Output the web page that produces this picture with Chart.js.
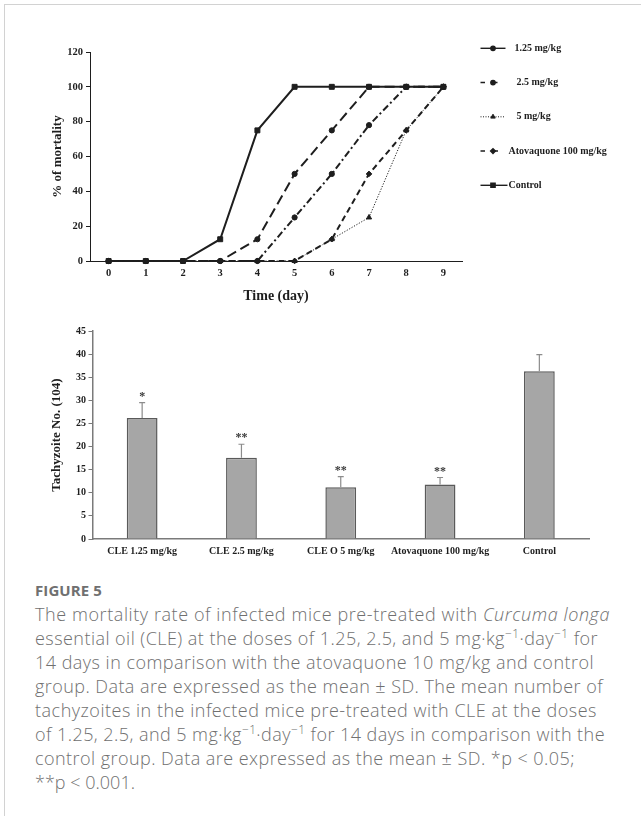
<!DOCTYPE html>
<html>
<head>
<meta charset="utf-8">
<script src="https://cdn.jsdelivr.net/npm/chart.js@4/dist/chart.umd.min.js"></script>
<style>
  html, body { margin: 0; padding: 0; background: #fff; }
  body { width: 641px; height: 816px; position: relative; overflow: hidden; }
  .frame { position: absolute; left: 4px; top: 4px; width: 800px; height: 900px;
           border-left: 1px solid #d2d2d2; border-top: 1px solid #d2d2d2; }
  #mortality { position: absolute; left: 0; top: 0; }
  #tachy { position: absolute; left: 0; top: 300px; }
  .caption { position: absolute; left: 35px; top: 578px; font-family: "Open Sans", sans-serif; color: #707070; }
  .fig { font-weight: 700; font-size: 15px; line-height: 24px; letter-spacing: 0.1px; }
  .ln { font-size: 18px; line-height: 24px; white-space: nowrap; font-weight: 300; width: max-content; }
  .ln sup { font-size: 0.66em; line-height: 0; vertical-align: 0.55em; }
</style>
</head>
<body>
<div class="frame"></div>
<canvas id="mortality" width="641" height="320"></canvas>
<canvas id="tachy" width="641" height="270"></canvas>
<div class="caption">
  <div class="fig">FIGURE 5</div>
  <div class="ln" data-right="610">The mortality rate of infected mice pre-treated with <i>Curcuma longa</i></div>
  <div class="ln" data-right="598">essential oil (CLE) at the doses of 1.25, 2.5, and 5 mg·kg<sup>−1</sup>·day<sup>−1</sup> for</div>
  <div class="ln" data-right="594">14 days in comparison with the atovaquone 10 mg/kg and control</div>
  <div class="ln" data-right="603">group. Data are expressed as the mean ± SD. The mean number of</div>
  <div class="ln" data-right="597">tachyzoites in the infected mice pre-treated with CLE at the doses</div>
  <div class="ln" data-right="605">of 1.25, 2.5, and 5 mg·kg<sup>−1</sup>·day<sup>−1</sup> for 14 days in comparison with the</div>
  <div class="ln" data-right="575">control group. Data are expressed as the mean ± SD. *p &lt; 0.05;</div>
  <div class="ln" data-right="135">**p &lt; 0.001.</div>
</div>
<script>
// ---- Mortality over time (% of mice dead per day) ----
const days = ['0', '1', '2', '3', '4', '5', '6', '7', '8', '9'];
const mortality125 = [0, 0, 0, 0, 12.5, 50, 75, 100, 100, 100];
const mortality25  = [0, 0, 0, 0, 0, 25, 50, 78, 100, 100];
const mortality5   = [0, 0, 0, 0, 0, 0, 12.5, 25, 75, 100];
const mortalityAto = [0, 0, 0, 0, 0, 0, 12.5, 50, 75, 100];
const mortalityCtl = [0, 0, 0, 12.5, 75, 100, 100, 100, 100, 100];
const mortalityTicks = [0, 20, 40, 60, 80, 100, 120];

// ---- Tachyzoite counts per group ----
const groups = ['CLE 1.25 mg/kg', 'CLE 2.5 mg/kg', 'CLE O 5 mg/kg', 'Atovaquone 100 mg/kg', 'Control'];
const tachyMean = [26.2, 17.6, 11.2, 11.8, 36.3];
const tachySD   = [3.3, 2.9, 2.3, 1.5, 3.6];
const tachyStars = ['*', '**', '**', '**', ''];

const SERIF = '"Liberation Serif", "Times New Roman", serif';
const INK = '#1e1e1e';
const AXIS = '#7a7a7a';

// Caption lines: spread the letters so each line spans its set measure
const captionLeft = 35;
document.querySelectorAll('.ln').forEach(el => {
  const natural = el.getBoundingClientRect().width;
  const chars = el.textContent.trim().length;
  const target = Number(el.dataset.right) - captionLeft;
  el.style.letterSpacing = ((target - natural) / chars).toFixed(3) + 'px';
});

// Legend drawn to the right of the plot, one row per series with its own sample glyph
const sideLegend = {
  id: 'sideLegend',
  afterDraw(chart, args, opts) {
    const ctx = chart.ctx;
    const x0 = chart.chartArea.right + opts.gap;
    ctx.save();
    opts.items.forEach((it, i) => {
      const y = opts.top + i * opts.step;
      const ds = chart.data.datasets[i];
      ctx.strokeStyle = INK;
      ctx.fillStyle = INK;
      ctx.lineWidth = it.lineWidth;
      ctx.setLineDash(it.dash);
      ctx.beginPath();
      ctx.moveTo(x0, y);
      ctx.lineTo(x0 + it.len, y);
      ctx.stroke();
      ctx.setLineDash([]);
      Chart.helpers.drawPoint(ctx, { pointStyle: ds.pointStyle, radius: it.radius, rotation: 0, borderWidth: 1 },
        x0 + it.mark, y);
      ctx.font = 'bold 10px ' + SERIF;
      ctx.textBaseline = 'middle';
      ctx.textAlign = 'left';
      ctx.fillText(ds.label, x0 + it.textAt, y);
    });
    ctx.restore();
  }
};

const lineDs = (label, data, dash, width, style, radius) => ({
  label, data, borderColor: INK, backgroundColor: INK, borderWidth: width,
  borderDash: dash, pointStyle: style, pointRadius: radius, pointBorderWidth: 1,
  pointBackgroundColor: INK, pointBorderColor: INK, tension: 0, clip: false, fill: false
});

new Chart(document.getElementById('mortality'), {
  type: 'line',
  data: {
    labels: days,
    datasets: [
      lineDs('1.25 mg/kg', mortality125, [10, 5], 2, 'circle', 2.6),
      lineDs('2.5 mg/kg', mortality25, [7, 3, 2, 3], 2, 'circle', 2.6),
      lineDs('5 mg/kg', mortality5, [1.2, 1.6], 1, 'triangle', 3),
      lineDs('Atovaquone 100 mg/kg', mortalityAto, [6, 4], 2, 'rectRot', 2.8),
      lineDs('Control', mortalityCtl, [], 2, 'rect', 3.5)
    ]
  },
  options: {
    responsive: false,
    animation: false,
    layout: { padding: { left: 0, right: 179, top: 52, bottom: 0 } },
    plugins: {
      legend: { display: false },
      tooltip: { enabled: false },
      sideLegend: {
        gap: 18.5, top: 48.3, step: 34.25,
        items: [
          { dash: [], lineWidth: 1.4, len: 25, mark: 12.5, radius: 2.2, textAt: 34 },
          { dash: [4.5, 8], lineWidth: 1.4, len: 25, mark: 12.5, radius: 2.2, textAt: 36 },
          { dash: [1, 1.5], lineWidth: 1, len: 25, mark: 12.5, radius: 2.6, textAt: 36 },
          { dash: [4.5, 8.5], lineWidth: 1.4, len: 26, mark: 12.5, radius: 2.4, textAt: 28 },
          { dash: [], lineWidth: 1.4, len: 27, mark: 12.5, radius: 3, textAt: 28 }
        ]
      }
    },
    scales: {
      x: {
        type: 'category',
        offset: true,
        grid: { display: true, drawOnChartArea: false, drawTicks: false },
        border: { display: true, color: INK, width: 1 },
        ticks: { color: INK, font: { family: SERIF, weight: 'bold', size: 10.5 }, padding: 6, maxRotation: 0 },
        title: { display: true, text: 'Time (day)', color: INK,
                 font: { family: SERIF, weight: 'bold', size: 14 }, padding: { top: 0, bottom: 15.5 } },
        afterFit: s => { s.height = 59; }
      },
      y: {
        min: 0, max: 120,
        afterBuildTicks: s => { s.ticks = mortalityTicks.map(v => ({ value: v })); },
        grid: { display: true, drawOnChartArea: false, drawTicks: true, tickLength: 4, color: INK },
        border: { display: true, color: INK, width: 1 },
        ticks: { color: INK, font: { family: SERIF, weight: 'bold', size: 10.5 }, padding: 3 },
        title: { display: true, text: '% of mortality', color: INK,
                 font: { family: SERIF, weight: 'bold', size: 13 }, padding: { top: 50, bottom: 0 } },
        afterFit: s => { s.width = 90; }
      }
    }
  },
  plugins: [sideLegend]
});

// Upper error whiskers and significance marks above each bar
const whiskers = {
  id: 'whiskers',
  afterDatasetsDraw(chart) {
    const ctx = chart.ctx;
    const meta = chart.getDatasetMeta(0);
    const ys = chart.scales.y;
    ctx.save();
    meta.data.forEach((bar, i) => {
      const top = ys.getPixelForValue(tachyMean[i]);
      const hi = ys.getPixelForValue(tachyMean[i] + tachySD[i]);
      ctx.strokeStyle = '#8c8c8c';
      ctx.lineWidth = 1.2;
      ctx.beginPath();
      ctx.moveTo(bar.x, top);
      ctx.lineTo(bar.x, hi);
      ctx.moveTo(bar.x - 3, hi);
      ctx.lineTo(bar.x + 3, hi);
      ctx.stroke();
      if (tachyStars[i]) {
        ctx.fillStyle = '#3a3a3a';
        ctx.font = 'bold 12px ' + SERIF;
        ctx.textAlign = 'center';
        ctx.textBaseline = 'alphabetic';
        ctx.fillText(tachyStars[i], bar.x, hi - 3);
      }
    });
    ctx.restore();
  }
};

new Chart(document.getElementById('tachy'), {
  type: 'bar',
  data: {
    labels: groups,
    datasets: [{
      data: tachyMean,
      backgroundColor: '#a6a6a6',
      borderColor: '#5a5a5a',
      borderWidth: 1.5,
      borderSkipped: 'bottom',
      categoryPercentage: 1,
      barPercentage: 0.31
    }]
  },
  options: {
    responsive: false,
    animation: false,
    layout: { padding: { left: 0, right: 52, top: 31, bottom: 0 } },
    plugins: { legend: { display: false }, tooltip: { enabled: false } },
    scales: {
      x: {
        grid: { display: true, drawOnChartArea: false, drawTicks: false },
        border: { display: true, color: AXIS, width: 1.5 },
        ticks: { color: INK, font: { family: SERIF, weight: 'bold', size: 10 }, padding: 6, maxRotation: 0, autoSkip: false },
        afterFit: s => { s.height = 31; }
      },
      y: {
        min: 0, max: 45,
        ticks: { stepSize: 5, color: INK, font: { family: SERIF, weight: 'bold', size: 10 }, padding: 2.5 },
        grid: { display: true, drawOnChartArea: false, drawTicks: true, tickLength: 4, color: AXIS },
        border: { display: true, color: AXIS, width: 1.5 },
        title: { display: true, text: 'Tachyzoite No. (104)', color: INK,
                 font: { family: SERIF, weight: 'bold', size: 13 }, padding: { top: 49, bottom: 0 } },
        afterFit: s => { s.width = 92.5; }
      }
    }
  },
  plugins: [whiskers]
});
</script>
</body>
</html>
